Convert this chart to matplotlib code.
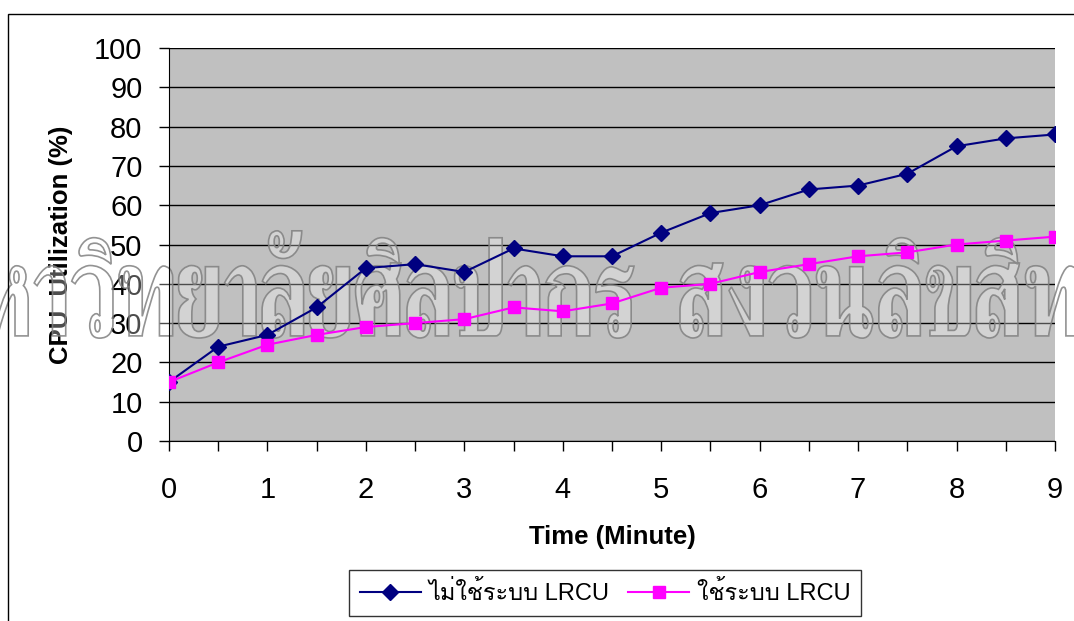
import unicodedata
import numpy as np
import matplotlib
matplotlib.use("Agg")
import matplotlib.pyplot as plt
from matplotlib.font_manager import FontProperties
from matplotlib.patches import Rectangle, PathPatch
from matplotlib.textpath import TextPath
from matplotlib.path import Path
from matplotlib.transforms import Affine2D

# ---------------- data ----------------
time_min = [0, 0.5, 1, 1.5, 2, 2.5, 3, 3.5, 4, 4.5, 5, 5.5, 6, 6.5, 7, 7.5, 8, 8.5, 9]
without_lrcu = [15, 24, 27, 34, 44, 45, 43, 49, 47, 47, 53, 58, 60, 64, 65, 68, 75, 77, 78]
with_lrcu = [15, 20, 24.5, 27, 29, 30, 31, 34, 33, 35, 39, 40, 43, 45, 47, 48, 50, 51, 52]
label_without = "ไม่ใช้ระบบ LRCU"
label_with = "ใช้ระบบ LRCU"
x_label = "Time (Minute)"
y_label = "CPU  Utilization (%)"
wm_left = "มหาวิทยาลัยศิลปากร"
wm_right = "สงวนลิขสิทธิ์"

plt.rcParams['font.family'] = ['Liberation Sans', 'Loma', 'DejaVu Sans']

fig = plt.figure(figsize=(10.74, 6.21), dpi=100)
W, H = 1074, 621

# outer chart border (extends beyond right/bottom)
fig.patches.append(Rectangle((8 / W, 1 - 640 / H), 1100 / W, (640 - 14) / H,
                             transform=fig.transFigure, fill=False,
                             edgecolor='black', linewidth=1.0))

ax = fig.add_axes([169 / W, 1 - 441 / H, (1055 - 169) / W, (441 - 48) / H])
ax.set_facecolor('#C0C0C0')
ax.set_axisbelow(True)

ax.plot(time_min, without_lrcu, color='#000080', linewidth=1.5, marker='D',
        markersize=8, label=label_without, zorder=3)
ax.plot(time_min, with_lrcu, color='#FF00FF', linewidth=1.5, marker='s',
        markersize=8.5, label=label_with, zorder=3)


# ---------------- watermark (outlined, semi transparent) ----------------
def thai_path(text, fp, gap, space):
    """Tight layout of Thai text: base glyphs packed by ink width + gap,
    combining marks placed over the preceding base glyph."""
    paths = []
    x = 0.0
    base = None
    mark_top = None
    starts = []
    for ch in text:
        starts.append(x)
        if ch == ' ':
            x += space
            continue
        tp = TextPath((0, 0), ch, size=100, prop=fp)
        e = tp.get_extents()
        if unicodedata.category(ch) == 'Mn' and base is not None:
            dx = base[1] - e.x1 - 2.0
            dy = 0.0
            if mark_top is not None and e.y0 < mark_top + 3:
                dy = mark_top + 3 - e.y0
            paths.append(tp.transformed(Affine2D().translate(dx, dy)))
            mark_top = e.y1 + dy
        else:
            paths.append(tp.transformed(Affine2D().translate(x - e.x0, 0)))
            base = (x, x + e.width)
            mark_top = None
            x += e.width + gap
    return Path.make_compound_path(*paths), starts


try:
    fp = FontProperties(family='FreeSerif', weight='bold')
    es = TextPath((0, 0), "ส", size=100, prop=fp).get_extents()
    sx = 43.0 / es.width          # glyph width of ส ≈ 43 px
    sy = 75.0 / es.height         # body height ≈ 75 px
    # ink widths of base glyphs in the right word
    bases = [c for c in wm_right if unicodedata.category(c) != 'Mn']
    sum_w = sum(TextPath((0, 0), c, size=100, prop=fp).get_extents().width
                for c in bases)
    gap = max(0.0, (445.0 / sx - sum_w) / (len(bases) - 1))
    space = 40.0 / sx
    full = wm_left + " " + wm_right
    path, starts = thai_path(full, fp, gap, space)
    xs_src = starts[len(wm_left) + 1]
    base_px = H - 338.0 - es.y0 * sy
    tr = (Affine2D().translate(-xs_src, 0).scale(sx, sy)
          .translate(680.0, base_px).scale(1.0 / W, 1.0 / H) + fig.transFigure)
    wm = PathPatch(path, transform=tr, facecolor=(1, 1, 1, 0.3),
                   edgecolor=(0.5, 0.5, 0.5, 0.85), linewidth=1.2,
                   clip_on=False, zorder=2)
    ax.add_artist(wm)
except Exception:
    pass

ax.set_xlim(0, 9)
ax.set_ylim(0, 100)
ax.set_yticks(np.arange(0, 101, 10))
xt = np.arange(0, 9.01, 0.5)
ax.set_xticks(xt)
ax.set_xticklabels([str(int(v)) if v == int(v) else '' for v in xt])
ax.tick_params(axis='both', direction='out', length=7, width=1, labelsize=21,
               colors='black')
ax.tick_params(axis='x', pad=18)
ax.tick_params(axis='y', pad=12)
ax.yaxis.grid(True, color='black', linewidth=1.0)
for s in ['top', 'right']:
    ax.spines[s].set_visible(False)

ax.set_xlabel(x_label, fontsize=18.5, fontweight='bold', labelpad=15)
ax.set_ylabel(y_label, fontsize=18.5, fontweight='bold', labelpad=15)

leg = ax.legend(loc='center', bbox_to_anchor=(0.492, -0.387), ncol=2,
                fontsize=17, frameon=True, fancybox=False, edgecolor='black',
                handlelength=2.6, handletextpad=0.3, columnspacing=0.8,
                borderpad=0.45, borderaxespad=0)
leg.get_frame().set_linewidth(1.0)

fig.savefig('out.png', dpi=100)
